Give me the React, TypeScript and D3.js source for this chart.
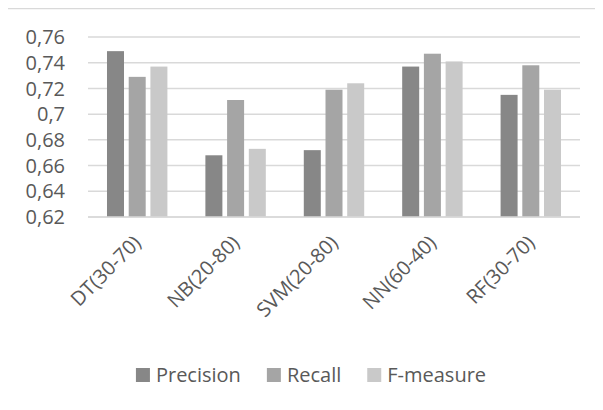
import { useEffect, useRef } from 'react'
import * as d3 from 'd3'

const categories = ['DT(30-70)', 'NB(20-80)', 'SVM(20-80)', 'NN(60-40)', 'RF(30-70)']
const seriesNames = ['Precision', 'Recall', 'F-measure']
const precision = [0.749, 0.668, 0.672, 0.737, 0.715]
const recall = [0.729, 0.711, 0.719, 0.747, 0.738]
const fMeasure = [0.737, 0.673, 0.724, 0.741, 0.719]
const seriesColors = ['#878787', '#a5a5a5', '#c9c9c9']
const yTicks = [0.62, 0.64, 0.66, 0.68, 0.7, 0.72, 0.74, 0.76]

const W = 603
const H = 410
const FONT = '"Open Sans", sans-serif'
const TEXT = '#595959'
const GRID = '#d9d9d9'

export default function App() {
  const ref = useRef<SVGSVGElement>(null)

  useEffect(() => {
    if (!ref.current) return
    const values = [precision, recall, fMeasure]
    const margin = { top: 37, right: 23, bottom: 193, left: 88 }
    const innerW = W - margin.left - margin.right
    const innerH = H - margin.top - margin.bottom

    d3.select(ref.current).selectAll('*').remove()
    const svg = d3.select(ref.current).style('font-family', FONT)

    // chart frame (cropped on the right and bottom)
    svg.append('rect')
      .attr('x', 5.5)
      .attr('y', 8.5)
      .attr('width', W + 20)
      .attr('height', H + 20)
      .attr('fill', '#fff')
      .attr('stroke', GRID)
      .attr('stroke-width', 1.5)

    const g = svg.append('g').attr('transform', `translate(${margin.left},${margin.top})`)

    const x0 = d3.scaleBand().domain(categories).range([0, innerW]).paddingInner(0.386).paddingOuter(0.193)
    const x1 = d3.scaleBand().domain(seriesNames).range([0, x0.bandwidth()]).paddingInner(0.217)
    const y = d3.scaleLinear().domain([0.62, 0.76]).range([innerH, 0])

    // gridlines
    g.selectAll('.grid')
      .data(yTicks)
      .join('line')
      .attr('x1', 0)
      .attr('x2', innerW)
      .attr('y1', (d) => y(d))
      .attr('y2', (d) => y(d))
      .attr('stroke', GRID)
      .attr('stroke-width', 1.5)

    // y tick labels
    g.selectAll('.ytick')
      .data(yTicks)
      .join('text')
      .attr('x', -23)
      .attr('y', (d) => y(d))
      .attr('dy', '0.36em')
      .attr('text-anchor', 'end')
      .attr('font-size', 20)
      .attr('fill', TEXT)
      .text((d) => String(+d.toFixed(2)).replace('.', ','))

    // bars
    seriesNames.forEach((s, si) => {
      g.selectAll(`.bar-${si}`)
        .data(categories)
        .join('rect')
        .attr('x', (c) => x0(c)! + x1(s)!)
        .attr('y', (_, i) => y(values[si][i]))
        .attr('width', x1.bandwidth())
        .attr('height', (_, i) => innerH - y(values[si][i]))
        .attr('fill', seriesColors[si])
    })

    // x axis baseline
    g.append('line')
      .attr('x1', 0)
      .attr('x2', innerW)
      .attr('y1', innerH)
      .attr('y2', innerH)
      .attr('stroke', GRID)
      .attr('stroke-width', 1.5)

    // rotated category labels
    g.selectAll('.xlabel')
      .data(categories)
      .join('text')
      .attr('transform', (c) => `translate(${x0(c)! + x0.bandwidth() / 2},${innerH + 22}) rotate(-45)`)
      .attr('text-anchor', 'end')
      .attr('dy', '0.36em')
      .attr('font-size', 20)
      .attr('fill', TEXT)
      .text((c) => c)

    // legend
    const legend = svg.append('g')
    const items = legend.selectAll('g').data(seriesNames).join('g')
    items.append('rect')
      .attr('width', 14)
      .attr('height', 14)
      .attr('y', -14)
      .attr('fill', (_, i) => seriesColors[i])
    items.append('text')
      .attr('x', 20)
      .attr('font-size', 20)
      .attr('fill', TEXT)
      .text((d) => d)
    let cx = 0
    items.each(function () {
      const t = d3.select(this).select('text').node() as SVGTextElement
      d3.select(this).attr('transform', `translate(${cx},0)`)
      cx += 20 + t.getComputedTextLength() + 26
    })
    const total = cx - 26
    legend.attr('transform', `translate(${margin.left + innerW / 2 - 23 - total / 2},382)`)
  }, [])

  return (
    <div style={{ margin: -8 }}>
      <svg ref={ref} width={W} height={H} style={{ display: 'block', background: '#fff' }} />
    </div>
  )
}
